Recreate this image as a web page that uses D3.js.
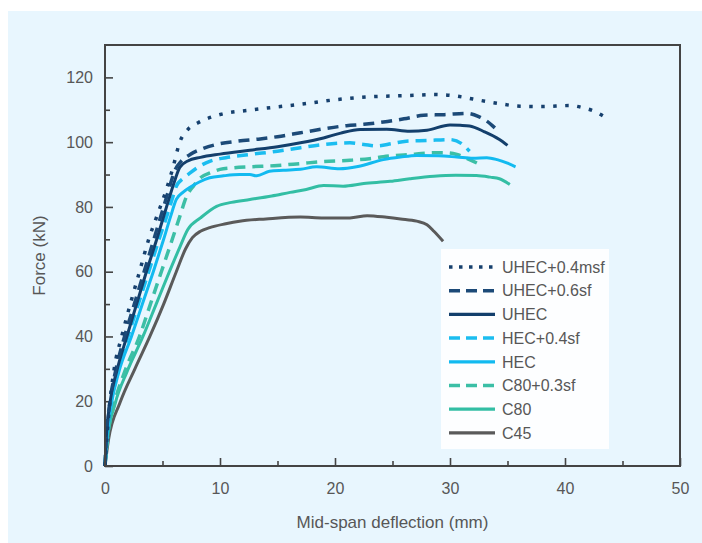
<!DOCTYPE html>
<html><head><meta charset="utf-8">
<script src="https://cdn.jsdelivr.net/npm/d3@7"></script>
<style>body{margin:0;background:#fff;}svg{display:block;}</style>
</head><body><svg id="c" width="702" height="543"></svg>
<script>
// ---- data ----
const seriesNames = ["UHEC+0.4msf","UHEC+0.6sf","UHEC","HEC+0.4sf","HEC","C80+0.3sf","C80","C45"];
const uhec04msf = [[0,0],[0.3,15],[0.8,30],[1.45,40],[2.2,50],[3.0,60],[3.8,70],[4.6,78],[5.3,85],[5.9,92],[6.5,100],[7.2,103.9],[8.1,106],[10.1,108.6],[12.6,109.9],[17,111.7],[19.8,113],[23,114],[26.5,114.4],[28.5,114.7],[30.6,114.2],[32,113.3],[34.1,112],[36.1,111.1],[38,111],[40.4,111.3],[41.6,110.6],[42.7,109.3],[43.5,107.7]];
const uhec06sf = [[0,0],[0.1,8],[0.4,19],[0.9,29],[1.7,40],[2.55,50],[3.4,60],[4.25,70],[5.1,80],[5.6,86],[6.1,91.5],[6.6,94],[7.4,96.2],[8.5,98],[9.7,99.3],[11.5,100.3],[13.5,101],[15,101.7],[17,102.9],[19,104.1],[21,105.1],[22.5,105.5],[24.2,106.2],[26,107.2],[27.7,108.3],[29.5,108.5],[31.5,108.9],[32.5,107.9],[33.2,106.5],[33.9,104.4]];
const uhec = [[0,0],[0.1,8],[0.43,19.5],[1.0,29],[1.9,40],[2.75,50],[3.6,60],[4.5,70],[5.35,80],[6.1,88.5],[6.5,92.2],[7.2,94.2],[8.3,95.3],[10,96.3],[12.6,97.5],[15,98.6],[17,99.8],[19,101.3],[20.5,102.8],[22.2,103.9],[24.5,104],[26.5,103.4],[28,103.7],[30,105.3],[30.9,105.2],[31.7,105],[33,103.2],[34.3,100.8],[35,99]];
const hec04sf = [[0,0],[0.15,8],[0.5,19],[1.1,29],[2.0,40],[2.9,50],[3.8,60],[4.7,70],[5.45,78],[5.85,82.5],[6.2,86.4],[6.8,88.8],[7.4,90.5],[8.2,92.5],[9.1,94.1],[10.5,95.2],[12.6,96.2],[15,97.2],[17,98.3],[19,99.3],[21.3,99.8],[22.5,99.3],[23.6,98.8],[25,99.6],[26.2,100.3],[28,100.5],[30,100.8],[31.1,99.3],[31.7,97.2]];
const hec = [[0,0],[0.15,8],[0.55,19],[1.2,29],[2.3,40],[3.25,50],[4.2,60],[5.1,70],[5.7,77],[6.2,82.3],[6.8,84.6],[7.4,86.1],[8.2,87.7],[9.1,89],[10.3,89.6],[11.7,90],[12.6,90],[13.2,89.6],[14.3,91],[15.5,91.3],[17,91.6],[18.4,92.4],[20.4,91.8],[22,92.5],[24.2,94.6],[25.7,95.4],[27.1,95.9],[29,95.8],[30.6,95.4],[32,95],[33.2,95.2],[34.1,94.6],[35,93.5],[35.7,92.4]];
const c8003sf = [[0,0],[0.2,8],[0.8,19],[1.7,29],[3.0,40],[3.95,50],[4.9,60],[5.85,70],[6.5,77],[7.1,83.3],[7.7,86.5],[8.3,89],[9.2,90.6],[10,91.6],[11.2,92.1],[12.6,92.4],[15,92.8],[17,93.4],[19,94],[21.3,94.4],[23,94.9],[24.2,95.5],[26.5,96.2],[28.6,96.7],[29.7,96.7],[30.6,96.2],[31.7,94.6],[32.6,93.1]];
const c80 = [[0,0],[0.2,8],[0.9,19.5],[1.9,29],[3.3,40],[4.45,50],[5.6,60],[6.5,67.5],[7.2,73],[8.3,76.6],[9.7,80.2],[11,81.4],[12.6,82.3],[14.5,83.4],[16.1,84.5],[17.5,85.4],[19,86.6],[20.7,86.4],[22.5,87.2],[24.8,87.9],[26.5,88.7],[28.6,89.5],[30.5,89.8],[32.3,89.7],[33.5,89.2],[34.3,88.7],[35.2,86.9]];
const c45 = [[0,0],[0.3,8],[1.3,19.5],[2.6,30],[3.9,40],[5.1,50],[6.2,60],[7.0,67],[7.6,70.5],[8.3,72.5],[9.1,73.6],[10.5,74.8],[11.7,75.6],[14,76.3],[17,76.9],[19,76.6],[21.3,76.6],[22.8,77.3],[24.5,76.8],[25.7,76.3],[27.1,75.6],[28,74.5],[28.6,72.5],[29.4,69.4]];
const xTicks = [0,10,20,30,40,50];
const yTicks = [0,20,40,60,80,100,120];
const xMinor = [5,15,25,35,45];
const yMinor = [10,30,50,70,90,110];

const seriesData = [uhec04msf,uhec06sf,uhec,hec04sf,hec,c8003sf,c80,c45];
const colors = ["#16406e","#1c4a78","#133f6c","#1bbdf0","#12baf0","#3cbfa6","#33bea4","#5a5a5a"];
const dashes = ["3.5 8.5","11 7",null,"11 7",null,"11 7",null,null];
const legendDashes = ["3.5 6.5","11 6",null,"11 6",null,"11 6",null,null];

// ---- layout ----
const svg = d3.select("#c");
svg.append("rect").attr("x",8).attr("y",11).attr("width",694).attr("height",532).attr("fill","#e8f6fe");
const L=105,R=680,T=45,B=466;
const x = d3.scaleLinear().domain([0,50]).range([L,R]);
const y = d3.scaleLinear().domain([0,130]).range([B,T]);
const font = "'Liberation Sans', Arial, sans-serif";
const txt = "#575757";

const gx = svg.append("g").attr("transform",`translate(0,${B})`)
  .call(d3.axisBottom(x).tickValues(xTicks).tickSize(-8).tickPadding(17).tickFormat(d3.format("d")));
const gxm = svg.append("g").attr("transform",`translate(0,${B})`)
  .call(d3.axisBottom(x).tickValues(xMinor).tickSize(-5).tickFormat(""));
const gy = svg.append("g").attr("transform",`translate(${L},0)`)
  .call(d3.axisLeft(y).tickValues(yTicks).tickSize(-8).tickPadding(12).tickFormat(d3.format("d")));
const gym = svg.append("g").attr("transform",`translate(${L},0)`)
  .call(d3.axisLeft(y).tickValues(yMinor).tickSize(-5).tickFormat(""));
[gx,gxm,gy,gym].forEach(g=>{
  g.select(".domain").remove();
  g.selectAll("line").attr("stroke","#444").attr("stroke-width",1.6);
  g.selectAll("text").attr("fill",txt).style("font-family",font).style("font-size","16px");
});

const line = d3.line().x(d=>x(d[0])).y(d=>y(d[1])).curve(d3.curveMonotoneX);
const order = [7,6,5,4,3,2,1,0];
order.forEach(i=>{
  svg.append("path").datum(seriesData[i]).attr("d",line)
    .attr("fill","none").attr("stroke",colors[i])
    .attr("stroke-width", dashes[i] ? 3.5 : 3)
    .attr("stroke-dasharray", dashes[i])
    .attr("stroke-linejoin","round");
});

svg.append("rect").attr("x",L).attr("y",T).attr("width",R-L).attr("height",B-T)
  .attr("fill","none").attr("stroke","#444").attr("stroke-width",2);

// legend
const lg = svg.append("g");
lg.append("rect").attr("x",441).attr("y",249).attr("width",168).attr("height",200).attr("fill","#fdfeff");
seriesNames.forEach((n,i)=>{
  const cy = 267 + i*23.7;
  lg.append("line").attr("x1",449).attr("x2",495).attr("y1",cy).attr("y2",cy)
    .attr("stroke",colors[i]).attr("stroke-width",dashes[i]?3.5:3.2)
    .attr("stroke-dasharray",legendDashes[i]);
  lg.append("text").attr("x",502).attr("y",cy).attr("dy","0.36em").text(n)
    .attr("fill",txt).style("font-family",font).style("font-size","16px");
});

svg.append("text").attr("x",(L+R)/2).attr("y",528).attr("text-anchor","middle")
  .text("Mid-span deflection (mm)").attr("fill",txt).style("font-family",font).style("font-size","17px");
svg.append("text").attr("transform",`translate(45,${(T+B)/2}) rotate(-90)`).attr("text-anchor","middle")
  .text("Force (kN)").attr("fill",txt).style("font-family",font).style("font-size","17px");
</script></body></html>
